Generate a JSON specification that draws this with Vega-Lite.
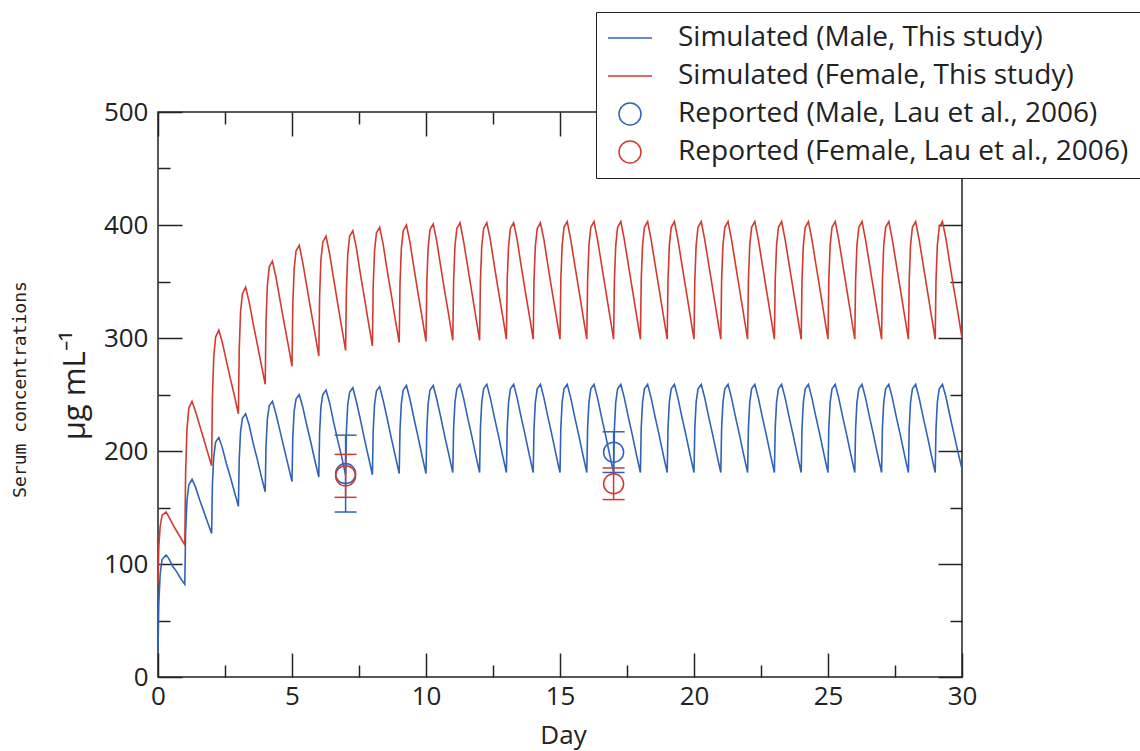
{
"$schema": "https://vega.github.io/schema/vega-lite/v6.json",
"width": 804, "height": 565,
"autosize": "none",
"padding": {"left": 158, "top": 112, "right": 178, "bottom": 74},
"background": "white",
"config": {"view": {"stroke": "#222", "strokeWidth": 1.5}, "font": "Open Sans"},
"datasets": {
"sim": [
{"t":0,"sm":22,"sf":83},{"t":0.03,"sm":65,"sf":115},{"t":0.08,"sm":91,"sf":133},{"t":0.15,"sm":104,"sf":143},{"t":0.3,"sm":108,"sf":146},{"t":0.4,"sm":105,"sf":142},{"t":0.55,"sm":98,"sf":135},{"t":0.7,"sm":93,"sf":129},{"t":0.85,"sm":87,"sf":123},
{"t":1,"sm":82,"sf":117},{"t":1.03,"sm":128,"sf":180},{"t":1.08,"sm":156,"sf":219},{"t":1.15,"sm":170,"sf":238},{"t":1.27,"sm":175,"sf":244},{"t":1.4,"sm":168,"sf":235},{"t":1.55,"sm":157,"sf":223},{"t":1.7,"sm":147,"sf":211},{"t":1.85,"sm":137,"sf":199},
{"t":2,"sm":127,"sf":187},{"t":2.03,"sm":170,"sf":247},{"t":2.08,"sm":195,"sf":283},{"t":2.15,"sm":208,"sf":301},{"t":2.27,"sm":212,"sf":307},{"t":2.4,"sm":203,"sf":296},{"t":2.55,"sm":189,"sf":280},{"t":2.7,"sm":177,"sf":264},{"t":2.85,"sm":164,"sf":249},
{"t":3,"sm":151,"sf":233},{"t":3.03,"sm":192,"sf":289},{"t":3.08,"sm":217,"sf":323},{"t":3.15,"sm":229,"sf":339},{"t":3.27,"sm":233,"sf":345},{"t":3.4,"sm":223,"sf":332},{"t":3.55,"sm":207,"sf":313},{"t":3.7,"sm":193,"sf":295},{"t":3.85,"sm":178,"sf":277},
{"t":4,"sm":164,"sf":259},{"t":4.03,"sm":204,"sf":314},{"t":4.08,"sm":228,"sf":346},{"t":4.15,"sm":240,"sf":363},{"t":4.27,"sm":244,"sf":368},{"t":4.4,"sm":233,"sf":354},{"t":4.55,"sm":218,"sf":334},{"t":4.7,"sm":203,"sf":314},{"t":4.85,"sm":188,"sf":295},
{"t":5,"sm":173,"sf":275},{"t":5.03,"sm":212,"sf":329},{"t":5.08,"sm":235,"sf":361},{"t":5.15,"sm":246,"sf":377},{"t":5.27,"sm":250,"sf":382},{"t":5.4,"sm":239,"sf":367},{"t":5.55,"sm":223,"sf":346},{"t":5.7,"sm":208,"sf":325},{"t":5.85,"sm":192,"sf":305},
{"t":6,"sm":177,"sf":284},{"t":6.03,"sm":216,"sf":337},{"t":6.08,"sm":239,"sf":369},{"t":6.15,"sm":250,"sf":385},{"t":6.27,"sm":254,"sf":390},{"t":6.4,"sm":243,"sf":375},{"t":6.55,"sm":226,"sf":353},{"t":6.7,"sm":210,"sf":331},{"t":6.85,"sm":195,"sf":310},
{"t":7,"sm":179,"sf":289},{"t":7.03,"sm":218,"sf":342},{"t":7.08,"sm":241,"sf":374},{"t":7.15,"sm":252,"sf":390},{"t":7.27,"sm":256,"sf":395},{"t":7.4,"sm":244,"sf":380},{"t":7.55,"sm":228,"sf":357},{"t":7.7,"sm":211,"sf":336},{"t":7.85,"sm":195,"sf":314},
{"t":8,"sm":179,"sf":293},{"t":8.03,"sm":218,"sf":346},{"t":8.08,"sm":241,"sf":377},{"t":8.15,"sm":253,"sf":393},{"t":8.27,"sm":257,"sf":398},{"t":8.4,"sm":245,"sf":383},{"t":8.55,"sm":229,"sf":360},{"t":8.7,"sm":212,"sf":339},{"t":8.85,"sm":196,"sf":317},
{"t":9,"sm":180,"sf":296},{"t":9.03,"sm":219,"sf":348},{"t":9.08,"sm":242,"sf":379},{"t":9.15,"sm":254,"sf":395},{"t":9.27,"sm":258,"sf":400},{"t":9.4,"sm":246,"sf":385},{"t":9.55,"sm":229,"sf":362},{"t":9.7,"sm":213,"sf":340},{"t":9.85,"sm":196,"sf":319},
{"t":10,"sm":180,"sf":297},{"t":10.03,"sm":219,"sf":349},{"t":10.08,"sm":242,"sf":380},{"t":10.15,"sm":254,"sf":396},{"t":10.27,"sm":258,"sf":401},{"t":10.4,"sm":246,"sf":386},{"t":10.55,"sm":230,"sf":363},{"t":10.7,"sm":213,"sf":341},{"t":10.85,"sm":197,"sf":320},
{"t":11,"sm":181,"sf":298},{"t":11.03,"sm":220,"sf":350},{"t":11.08,"sm":243,"sf":381},{"t":11.15,"sm":255,"sf":397},{"t":11.27,"sm":259,"sf":402},{"t":11.4,"sm":247,"sf":386},{"t":11.55,"sm":230,"sf":364},{"t":11.7,"sm":214,"sf":342},{"t":11.85,"sm":197,"sf":320},
{"t":12,"sm":181,"sf":298},{"t":12.03,"sm":220,"sf":350},{"t":12.08,"sm":243,"sf":381},{"t":12.15,"sm":255,"sf":397},{"t":12.27,"sm":259,"sf":402},{"t":12.4,"sm":247,"sf":387},{"t":12.55,"sm":230,"sf":364},{"t":12.7,"sm":214,"sf":342},{"t":12.85,"sm":197,"sf":321},
{"t":13,"sm":181,"sf":299},{"t":13.03,"sm":220,"sf":351},{"t":13.08,"sm":243,"sf":381},{"t":13.15,"sm":255,"sf":397},{"t":13.27,"sm":259,"sf":402},{"t":13.4,"sm":247,"sf":387},{"t":13.55,"sm":230,"sf":364},{"t":13.7,"sm":214,"sf":342},{"t":13.85,"sm":197,"sf":321},
{"t":14,"sm":181,"sf":299},{"t":14.03,"sm":220,"sf":351},{"t":14.08,"sm":243,"sf":381},{"t":14.15,"sm":255,"sf":397},{"t":14.27,"sm":259,"sf":402},{"t":14.4,"sm":247,"sf":387},{"t":14.55,"sm":230,"sf":364},{"t":14.7,"sm":214,"sf":342},{"t":14.85,"sm":197,"sf":321},
{"t":15,"sm":181,"sf":299},{"t":15.03,"sm":220,"sf":351},{"t":15.08,"sm":243,"sf":382},{"t":15.15,"sm":255,"sf":398},{"t":15.27,"sm":259,"sf":403},{"t":15.4,"sm":247,"sf":387},{"t":15.55,"sm":230,"sf":365},{"t":15.7,"sm":214,"sf":343},{"t":15.85,"sm":197,"sf":321},
{"t":16,"sm":181,"sf":299},{"t":16.03,"sm":220,"sf":351},{"t":16.08,"sm":243,"sf":382},{"t":16.15,"sm":255,"sf":398},{"t":16.27,"sm":259,"sf":403},{"t":16.4,"sm":247,"sf":387},{"t":16.55,"sm":230,"sf":365},{"t":16.7,"sm":214,"sf":343},{"t":16.85,"sm":197,"sf":321},
{"t":17,"sm":181,"sf":299},{"t":17.03,"sm":220,"sf":351},{"t":17.08,"sm":243,"sf":382},{"t":17.15,"sm":255,"sf":398},{"t":17.27,"sm":259,"sf":403},{"t":17.4,"sm":247,"sf":387},{"t":17.55,"sm":230,"sf":365},{"t":17.7,"sm":214,"sf":343},{"t":17.85,"sm":197,"sf":321},
{"t":18,"sm":181,"sf":299},{"t":18.03,"sm":220,"sf":351},{"t":18.08,"sm":243,"sf":382},{"t":18.15,"sm":255,"sf":398},{"t":18.27,"sm":259,"sf":403},{"t":18.4,"sm":247,"sf":387},{"t":18.55,"sm":230,"sf":365},{"t":18.7,"sm":214,"sf":343},{"t":18.85,"sm":197,"sf":321},
{"t":19,"sm":181,"sf":299},{"t":19.03,"sm":220,"sf":351},{"t":19.08,"sm":243,"sf":382},{"t":19.15,"sm":255,"sf":398},{"t":19.27,"sm":259,"sf":403},{"t":19.4,"sm":247,"sf":387},{"t":19.55,"sm":230,"sf":365},{"t":19.7,"sm":214,"sf":343},{"t":19.85,"sm":197,"sf":321},
{"t":20,"sm":181,"sf":299},{"t":20.03,"sm":220,"sf":351},{"t":20.08,"sm":243,"sf":382},{"t":20.15,"sm":255,"sf":398},{"t":20.27,"sm":259,"sf":403},{"t":20.4,"sm":247,"sf":387},{"t":20.55,"sm":230,"sf":365},{"t":20.7,"sm":214,"sf":343},{"t":20.85,"sm":197,"sf":321},
{"t":21,"sm":181,"sf":299},{"t":21.03,"sm":220,"sf":351},{"t":21.08,"sm":243,"sf":382},{"t":21.15,"sm":255,"sf":398},{"t":21.27,"sm":259,"sf":403},{"t":21.4,"sm":247,"sf":387},{"t":21.55,"sm":230,"sf":365},{"t":21.7,"sm":214,"sf":343},{"t":21.85,"sm":197,"sf":321},
{"t":22,"sm":181,"sf":299},{"t":22.03,"sm":220,"sf":351},{"t":22.08,"sm":243,"sf":382},{"t":22.15,"sm":255,"sf":398},{"t":22.27,"sm":259,"sf":403},{"t":22.4,"sm":247,"sf":387},{"t":22.55,"sm":230,"sf":365},{"t":22.7,"sm":214,"sf":343},{"t":22.85,"sm":197,"sf":321},
{"t":23,"sm":181,"sf":299},{"t":23.03,"sm":220,"sf":351},{"t":23.08,"sm":243,"sf":382},{"t":23.15,"sm":255,"sf":398},{"t":23.27,"sm":259,"sf":403},{"t":23.4,"sm":247,"sf":387},{"t":23.55,"sm":230,"sf":365},{"t":23.7,"sm":214,"sf":343},{"t":23.85,"sm":197,"sf":321},
{"t":24,"sm":181,"sf":299},{"t":24.03,"sm":220,"sf":351},{"t":24.08,"sm":243,"sf":382},{"t":24.15,"sm":255,"sf":398},{"t":24.27,"sm":259,"sf":403},{"t":24.4,"sm":247,"sf":387},{"t":24.55,"sm":230,"sf":365},{"t":24.7,"sm":214,"sf":343},{"t":24.85,"sm":197,"sf":321},
{"t":25,"sm":181,"sf":299},{"t":25.03,"sm":220,"sf":351},{"t":25.08,"sm":243,"sf":382},{"t":25.15,"sm":255,"sf":398},{"t":25.27,"sm":259,"sf":403},{"t":25.4,"sm":247,"sf":387},{"t":25.55,"sm":230,"sf":365},{"t":25.7,"sm":214,"sf":343},{"t":25.85,"sm":197,"sf":321},
{"t":26,"sm":181,"sf":299},{"t":26.03,"sm":220,"sf":351},{"t":26.08,"sm":243,"sf":382},{"t":26.15,"sm":255,"sf":398},{"t":26.27,"sm":259,"sf":403},{"t":26.4,"sm":247,"sf":387},{"t":26.55,"sm":230,"sf":365},{"t":26.7,"sm":214,"sf":343},{"t":26.85,"sm":197,"sf":321},
{"t":27,"sm":181,"sf":299},{"t":27.03,"sm":220,"sf":351},{"t":27.08,"sm":243,"sf":382},{"t":27.15,"sm":255,"sf":398},{"t":27.27,"sm":259,"sf":403},{"t":27.4,"sm":247,"sf":387},{"t":27.55,"sm":230,"sf":365},{"t":27.7,"sm":214,"sf":343},{"t":27.85,"sm":197,"sf":321},
{"t":28,"sm":181,"sf":299},{"t":28.03,"sm":220,"sf":351},{"t":28.08,"sm":243,"sf":382},{"t":28.15,"sm":255,"sf":398},{"t":28.27,"sm":259,"sf":403},{"t":28.4,"sm":247,"sf":387},{"t":28.55,"sm":230,"sf":365},{"t":28.7,"sm":214,"sf":343},{"t":28.85,"sm":197,"sf":321},
{"t":29,"sm":181,"sf":299},{"t":29.03,"sm":220,"sf":351},{"t":29.08,"sm":243,"sf":382},{"t":29.15,"sm":255,"sf":398},{"t":29.27,"sm":259,"sf":403},{"t":29.4,"sm":248,"sf":388},{"t":29.55,"sm":231,"sf":365},{"t":29.7,"sm":215,"sf":343},{"t":29.85,"sm":199,"sf":322},
{"t":30,"sm":184,"sf":300}
],
"rep": [
{"t":7,"s":"rm","v":180,"lo":146,"hi":214},
{"t":7,"s":"rf","v":178,"lo":159,"hi":197},
{"t":17,"s":"rm","v":199,"lo":181,"hi":217},
{"t":17,"s":"rf","v":171,"lo":157,"hi":185}
]
},
"resolve": {"axis": {"x": "independent", "y": "independent"}},
"layer": [
{
"data": {"name": "sim"},
"transform": [{"fold": ["sm", "sf"], "as": ["s", "v"]}],
"mark": {"type": "line", "strokeWidth": 1.6},
"encoding": {
"x": {"field": "t", "type": "quantitative", "scale": {"domain": [0, 30], "nice": false, "zero": false},
 "axis": {"orient": "bottom", "values": [0,5,10,15,20,25,30], "tickSize": -24, "tickWidth": 1.5, "tickColor": "#222", "domain": false, "grid": false,
  "labelFont": "Open Sans", "labelFontSize": 26, "labelColor": "#222", "labelPadding": 30, "labelFlush": false, "labelOverlap": false,
  "title": "Day", "titleFont": "Open Sans", "titleFontSize": 26, "titleFontWeight": "normal", "titleColor": "#222", "titleX": 405, "titleY": 58, "titleBaseline": "middle", "titleAlign": "center"}},
"y": {"field": "v", "type": "quantitative", "scale": {"domain": [0, 500], "nice": false},
 "axis": {"orient": "left", "values": [0,100,200,300,400,500], "tickSize": -24, "tickWidth": 1.5, "tickColor": "#222", "domain": false, "grid": false,
  "labelFont": "Open Sans", "labelFontSize": 26, "labelColor": "#222", "labelPadding": 34, "labelFlush": false, "labelOverlap": false,
  "title": "μg mL⁻¹", "titleFont": "Open Sans", "titleFontSize": 31, "titleFontWeight": "normal", "titleColor": "#222", "titleX": -83, "titleY": 273, "titleAngle": -90, "titleBaseline": "middle", "titleAlign": "center"}},
"color": {"field": "s", "type": "nominal", "scale": {"domain": ["sm", "sf", "rm", "rf"], "range": ["#2f63b8", "#d33a2f", "#2f63b8", "#d33a2f"]}}
}
},
{
"data": {"name": "rep"},
"mark": {"type": "rule", "strokeWidth": 1.5},
"encoding": {
"x": {"field": "t", "type": "quantitative",
 "axis": {"orient": "bottom", "values": [2.5,7.5,12.5,17.5,22.5,27.5], "tickSize": -12, "tickWidth": 1.5, "tickColor": "#222", "domain": false, "grid": false, "labels": false, "title": null}},
"y": {"field": "lo", "type": "quantitative",
 "axis": {"orient": "left", "values": [50,150,250,350,450], "tickSize": -12, "tickWidth": 1.5, "tickColor": "#222", "domain": false, "grid": false, "labels": false,
  "title": "Serum concentrations", "titleFont": "DejaVu Sans Mono", "titleFontSize": 18, "titleFontWeight": "normal", "titleColor": "#222", "titleX": -138, "titleY": 277, "titleAngle": -90, "titleBaseline": "middle", "titleAlign": "center"}},
"y2": {"field": "hi"},
"color": {"field": "s", "type": "nominal"}
}
},
{
"data": {"name": "rep"},
"mark": {"type": "point", "shape": "stroke", "filled": false, "size": 484, "strokeWidth": 1.5, "opacity": 1},
"encoding": {
"x": {"field": "t", "type": "quantitative",
 "axis": {"orient": "top", "values": [0,5,10,15,20,25,30], "tickSize": -24, "tickWidth": 1.5, "tickColor": "#222", "domain": false, "grid": false, "labels": false, "title": null}},
"y": {"field": "lo", "type": "quantitative",
 "axis": {"orient": "right", "values": [0,100,200,300,400,500], "tickSize": -24, "tickWidth": 1.5, "tickColor": "#222", "domain": false, "grid": false, "labels": false, "title": null}},
"color": {"field": "s", "type": "nominal"}
}
},
{
"data": {"name": "rep"},
"mark": {"type": "point", "shape": "stroke", "filled": false, "size": 484, "strokeWidth": 1.5, "opacity": 1},
"encoding": {
"x": {"field": "t", "type": "quantitative",
 "axis": {"orient": "top", "values": [2.5,7.5,12.5,17.5,22.5,27.5], "tickSize": -12, "tickWidth": 1.5, "tickColor": "#222", "domain": false, "grid": false, "labels": false, "title": null}},
"y": {"field": "hi", "type": "quantitative",
 "axis": {"orient": "right", "values": [50,150,250,350,450], "tickSize": -12, "tickWidth": 1.5, "tickColor": "#222", "domain": false, "grid": false, "labels": false, "title": null}},
"color": {"field": "s", "type": "nominal"}
}
},
{
"data": {"name": "rep"},
"mark": {"type": "point", "filled": false, "size": 400, "strokeWidth": 1.5, "opacity": 1},
"encoding": {
"x": {"field": "t", "type": "quantitative", "axis": null},
"y": {"field": "v", "type": "quantitative", "axis": null},
"color": {"field": "s", "type": "nominal",
 "legend": {"orient": "none", "legendX": 438, "legendY": -100, "title": null, "direction": "vertical",
  "labelExpr": "datum.label == 'sm' ? 'Simulated (Male, This study)' : datum.label == 'sf' ? 'Simulated (Female, This study)' : datum.label == 'rm' ? 'Reported (Male, Lau et al., 2006)' : 'Reported (Female, Lau et al., 2006)'",
  "labelFont": "Open Sans", "labelFontSize": 28, "labelColor": "#222", "labelLimit": 0, "labelOffset": 34,
  "symbolSize": 484, "symbolStrokeWidth": 1.5, "symbolOffset": 8, "rowPadding": 10, "symbolOpacity": 1, "symbolFillColor": "transparent",
  "padding": 12, "strokeColor": "#222", "fillColor": "white",
  "encode": {"symbols": {"update": {"fill": {"value": "transparent"}, "opacity": {"value": 1}, "strokeWidth": {"value": 1.5}}}}}},
"shape": {"field": "s", "type": "nominal", "scale": {"domain": ["sm", "sf", "rm", "rf"], "range": ["M-2,0H2", "M-2,0H2", "circle", "circle"]}}
}
}
]
}
